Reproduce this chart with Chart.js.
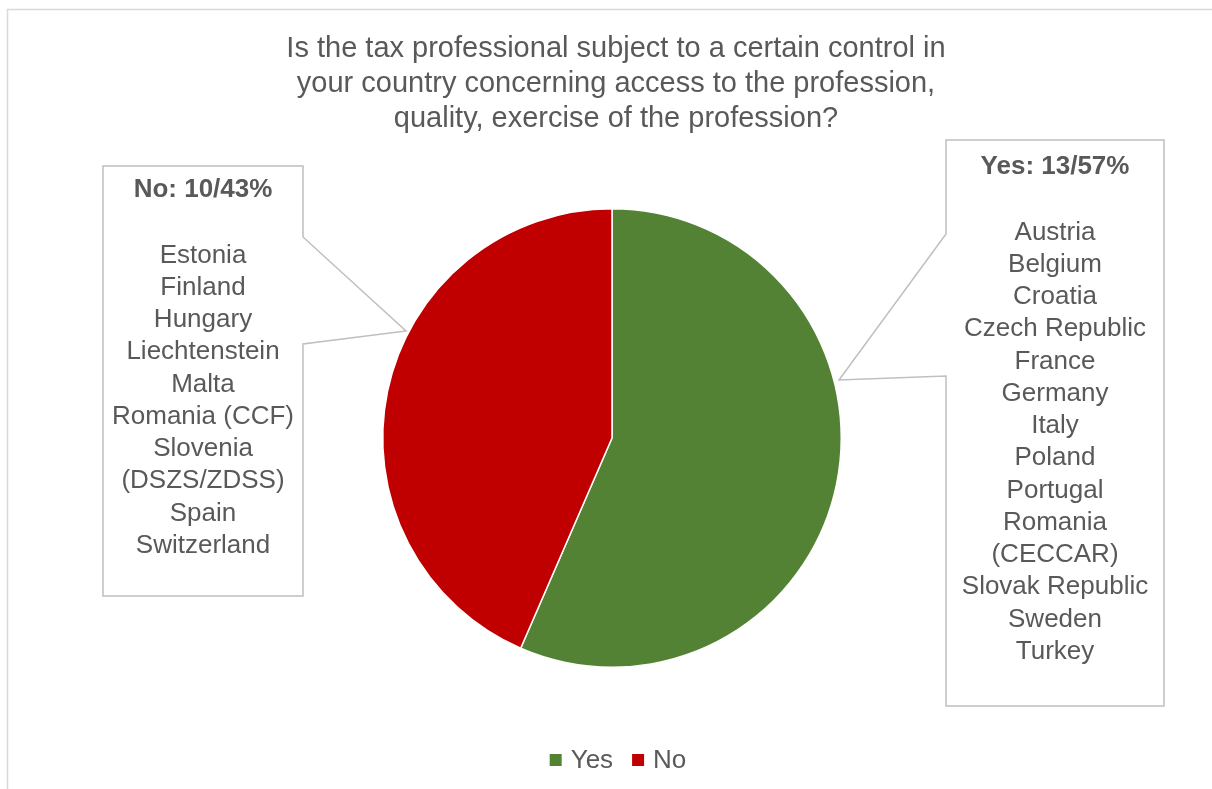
<!DOCTYPE html>
<html>
<head>
<meta charset="utf-8">
<script src="https://cdn.jsdelivr.net/npm/chart.js@4/dist/chart.umd.min.js"></script>
<style>
  html, body { margin: 0; padding: 0; background: #fff; }
  #wrap { width: 1212px; height: 789px; position: relative; }
</style>
</head>
<body>
<div id="wrap"><canvas id="pie"></canvas></div>
<script>
const titleLines = [
    'Is the tax professional subject to a certain control in',
    'your country concerning access to the profession,',
    'quality, exercise of the profession?'
];
const labels = ['Yes', 'No'];
const counts = [13, 10];
const colors = ['#548235', '#C00000'];
const yesCountries = ['Austria', 'Belgium', 'Croatia', 'Czech Republic', 'France', 'Germany', 'Italy',
    'Poland', 'Portugal', 'Romania (CECCAR)', 'Slovak Republic', 'Sweden', 'Turkey'];
const noCountries = ['Estonia', 'Finland', 'Hungary', 'Liechtenstein', 'Malta', 'Romania (CCF)',
    'Slovenia (DSZS/ZDSS)', 'Spain', 'Switzerland'];

const FONT = '"Liberation Sans", Arial, sans-serif';
const TEXT = '#595959';
const LINE = '#bfbfbf';

// callout boxes: rectangle + pointer joins on the side facing the pie, tip on the slice edge
const callouts = [
    { idx: 0, names: yesCountries, box: [946, 140, 1164, 706], side: 'left', join: [234, 376], tip: [839, 380], headY: 167 },
    { idx: 1, names: noCountries, box: [103, 166, 303, 596], side: 'right', join: [237, 344], tip: [406, 331], headY: 190 }
];

function wrapText(ctx, text, maxW) {
    if (ctx.measureText(text).width <= maxW) return [text];
    const words = text.split(' ');
    const out = [];
    let cur = '';
    words.forEach(w => {
        const t = cur ? cur + ' ' + w : w;
        if (cur && ctx.measureText(t).width > maxW) { out.push(cur); cur = w; }
        else cur = t;
    });
    if (cur) out.push(cur);
    return out;
}

const decorations = {
    id: 'decorations',
    afterDraw(chart) {
        const ctx = chart.ctx;
        const total = counts.reduce((a, b) => a + b, 0);
        ctx.save();

        // frame (top and left edges only)
        ctx.strokeStyle = '#d9d9d9';
        ctx.lineWidth = 1.5;
        ctx.beginPath();
        ctx.moveTo(7.5, 789);
        ctx.lineTo(7.5, 9.5);
        ctx.lineTo(1212, 9.5);
        ctx.stroke();

        // title
        ctx.fillStyle = TEXT;
        ctx.textAlign = 'center';
        ctx.textBaseline = 'middle';
        ctx.font = '29px ' + FONT;
        titleLines.forEach((t, i) => ctx.fillText(t, 616, 49 + i * 35));

        // callouts
        callouts.forEach(c => {
            const [x1, y1, x2, y2] = c.box;
            ctx.strokeStyle = LINE;
            ctx.lineWidth = 1.5;
            ctx.beginPath();
            if (c.side === 'left') {
                ctx.moveTo(x1, y1); ctx.lineTo(x2, y1); ctx.lineTo(x2, y2); ctx.lineTo(x1, y2);
                ctx.lineTo(x1, c.join[1]); ctx.lineTo(c.tip[0], c.tip[1]);
                ctx.lineTo(x1, c.join[0]); ctx.closePath();
            } else {
                ctx.moveTo(x2, y1); ctx.lineTo(x1, y1); ctx.lineTo(x1, y2); ctx.lineTo(x2, y2);
                ctx.lineTo(x2, c.join[1]); ctx.lineTo(c.tip[0], c.tip[1]);
                ctx.lineTo(x2, c.join[0]); ctx.closePath();
            }
            ctx.fillStyle = '#fff';
            ctx.fill();
            ctx.stroke();

            const cx = (x1 + x2) / 2;
            const pct = Math.round(counts[c.idx] / total * 100);
            ctx.fillStyle = TEXT;
            ctx.font = 'bold 26px ' + FONT;
            ctx.fillText(labels[c.idx] + ': ' + counts[c.idx] + '/' + pct + '%', cx, c.headY);
            ctx.font = '26px ' + FONT;
            let lines = [];
            c.names.forEach(n => { lines = lines.concat(wrapText(ctx, n, x2 - x1 - 12)); });
            lines.forEach((l, i) => ctx.fillText(l, cx, c.headY + 65.5 + i * 32.25));
        });

        // legend
        ctx.font = '26px ' + FONT;
        ctx.textAlign = 'left';
        const sq = 12, gap = 9, itemGap = 19;
        const widths = labels.map(l => sq + gap + ctx.measureText(l).width);
        const legW = widths.reduce((a, b) => a + b, 0) + itemGap * (labels.length - 1);
        let lx = 618 - legW / 2;
        const ly = 760;
        labels.forEach((l, i) => {
            ctx.fillStyle = colors[i];
            ctx.fillRect(lx, ly - sq / 2, sq, sq);
            ctx.fillStyle = TEXT;
            ctx.fillText(l, lx + sq + gap, ly + 1);
            lx += widths[i] + itemGap;
        });
        ctx.restore();
    }
};

new Chart(document.getElementById('pie'), {
    type: 'pie',
    data: {
        labels: labels,
        datasets: [{
            data: counts,
            backgroundColor: colors,
            borderColor: '#ffffff',
            borderWidth: 1.5
        }]
    },
    options: {
        responsive: true,
        maintainAspectRatio: false,
        animation: false,
        layout: { padding: { left: 382, right: 370, top: 208, bottom: 121 } },
        plugins: {
            legend: { display: false },
            title: { display: false },
            tooltip: { enabled: false }
        }
    },
    plugins: [decorations]
});
</script>
</body>
</html>
